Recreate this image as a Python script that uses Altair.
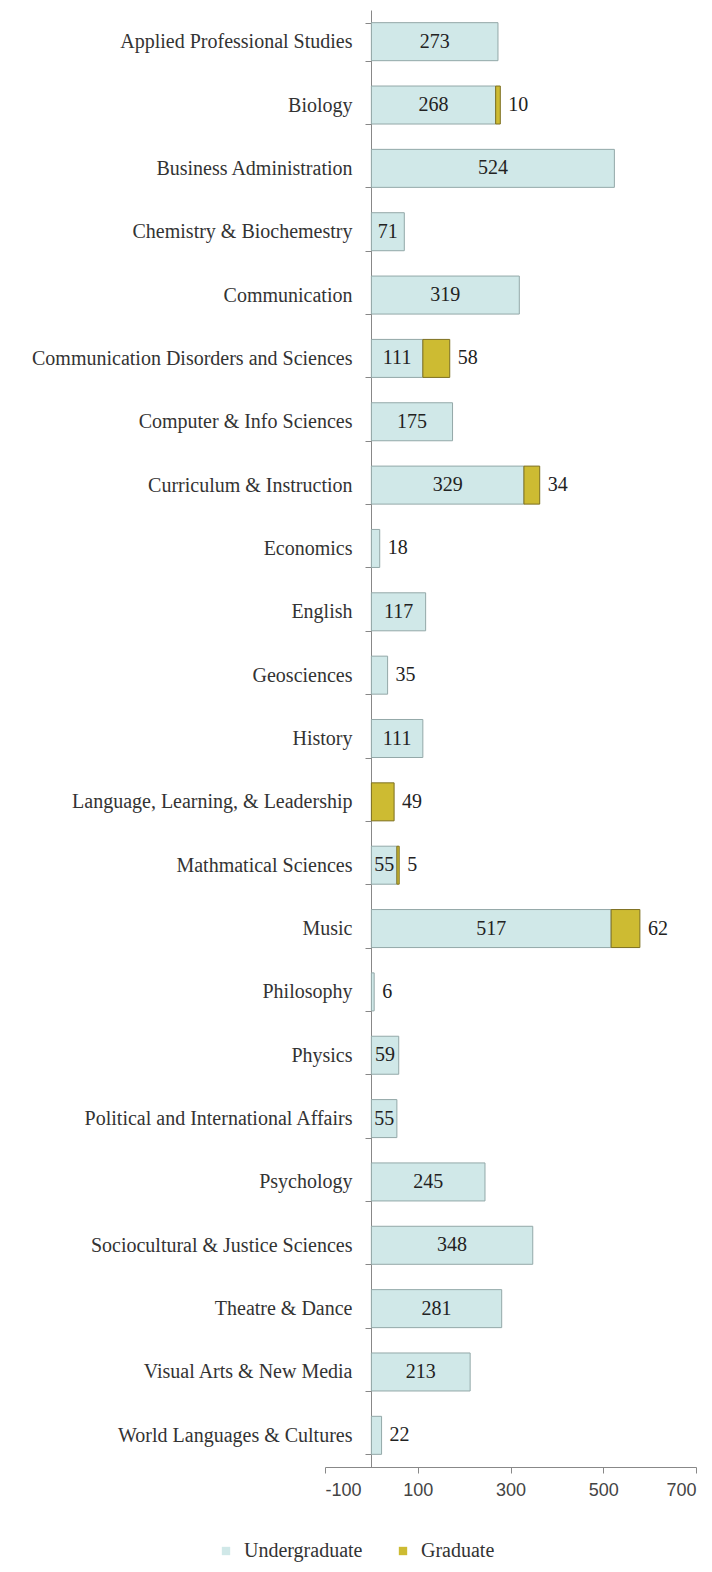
import altair as alt
import pandas as pd

categories = [
    "Applied Professional Studies", "Biology", "Business Administration",
    "Chemistry & Biochemestry", "Communication",
    "Communication Disorders and Sciences", "Computer & Info Sciences",
    "Curriculum & Instruction", "Economics", "English", "Geosciences",
    "History", "Language, Learning, & Leadership", "Mathmatical Sciences",
    "Music", "Philosophy", "Physics", "Political and International Affairs",
    "Psychology", "Sociocultural & Justice Sciences", "Theatre & Dance",
    "Visual Arts & New Media", "World Languages & Cultures",
]
undergraduate = [273, 268, 524, 71, 319, 111, 175, 329, 18, 117, 35, 111, 0,
                 55, 517, 6, 59, 55, 245, 348, 281, 213, 22]
graduate = [0, 10, 0, 0, 0, 58, 0, 34, 0, 0, 0, 0, 49,
            5, 62, 0, 0, 0, 0, 0, 0, 0, 0]
levels = ["Undergraduate", "Graduate"]
x_ticks = [-100, 100, 300, 500, 700]

rows = []
for c, u, g in zip(categories, undergraduate, graduate):
    rows.append({"category": c, "level": levels[0], "ord": 0, "value": u})
    rows.append({"category": c, "level": levels[1], "ord": 1, "value": g})
df = pd.DataFrame(rows)

SERIF = "Liberation Serif"

y_enc = alt.Y(
    "category:N", sort=categories, title=None,
    scale=alt.Scale(paddingInner=0.4, paddingOuter=0.2),
    axis=alt.Axis(
        offset=-46, tickBand="extent", tickSize=6, tickColor="#888",
        domainColor="#888", labelFont=SERIF, labelFontSize=20,
        labelColor="#333", labelPadding=13, labelLimit=400, grid=False,
    ),
)
x_scale = alt.Scale(domain=[-100, 700], nice=False, zero=False)

base = alt.Chart(df).transform_filter("datum.value > 0").transform_joinaggregate(
    total="sum(value)", groupby=["category"]
)

bars = base.mark_bar(strokeWidth=1).encode(
    y=y_enc,
    x=alt.X(
        "value:Q", stack="zero", scale=x_scale, title=None,
        axis=alt.Axis(
            values=x_ticks, grid=False, domainColor="#888", tickColor="#888",
            tickSize=6, labelFont="Liberation Sans", labelFontSize=18,
            labelColor="#444", labelPadding=8,
            labelExpr="replace(datum.label, '\u2212', '-')",
        ),
    ),
    color=alt.Color(
        "level:N",
        scale=alt.Scale(domain=levels, range=["#d0e8e8", "#cdbb32"]),
        legend=alt.Legend(
            title=None, orient="none", direction="horizontal",
            legendX=-109, legendY=1531, symbolType="square", symbolSize=70,
            symbolStrokeWidth=0, labelFont=SERIF, labelFontSize=20,
            labelColor="#333", labelOffset=8, columnPadding=30,
        ),
    ),
    stroke=alt.Stroke(
        "level:N",
        scale=alt.Scale(domain=levels, range=["#93a8a8", "#7d7020"]),
        legend=None,
    ),
    order=alt.Order("ord:Q"),
)

inside = base.transform_filter(
    "datum.level == 'Undergraduate' && datum.value >= 50"
).transform_calculate(mid="datum.value / 2").mark_text(
    font=SERIF, fontSize=20, color="#222", align="center", baseline="middle"
).encode(
    y=alt.Y("category:N", sort=categories),
    x=alt.X("mid:Q", scale=x_scale),
    text="value:Q",
)

outside = base.transform_filter(
    "datum.level == 'Graduate' || datum.value < 50"
).mark_text(
    font=SERIF, fontSize=20, color="#222", align="left", baseline="middle", dx=8
).encode(
    y=alt.Y("category:N", sort=categories),
    x=alt.X("total:Q", scale=x_scale),
    text="value:Q",
)

chart = alt.layer(bars, inside, outside).properties(
    width=371, height=1457,
    autosize=alt.AutoSizeParams(type="none"),
    padding={"left": 317, "top": 2, "right": 8, "bottom": 102},
).configure_view(stroke=None)

chart.save("out.html", embed_options={"renderer": "svg", "actions": False})
